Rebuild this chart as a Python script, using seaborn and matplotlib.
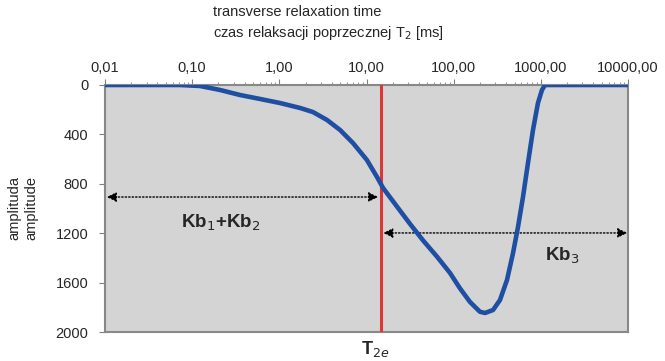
import numpy as np
import pandas as pd
import matplotlib
matplotlib.use("Agg")
import matplotlib.pyplot as plt
import matplotlib.ticker as mticker
import seaborn as sns

# T2 relaxation time [ms] and amplitude
t2_ms = [0.01, 0.072, 0.123, 0.208, 0.354, 0.60, 1.02, 1.73, 2.43, 3.52,
         4.97, 7.0, 10.1, 13.2, 15.5, 22.4, 31.6, 44.5, 64.4, 90.8,
         118, 154, 200, 229, 283, 340, 409, 480, 547, 624,
         712, 813, 927, 1031, 1117, 10000]
amplitude = [0, 0, 8, 40, 81, 113, 146, 186, 219, 283,
             364, 470, 607, 745, 834, 985, 1125, 1258, 1390, 1522,
             1646, 1757, 1836, 1846, 1822, 1741, 1579, 1360, 1150, 907,
             632, 364, 146, 40, 0, 0]

t2e_cutoff = 14.6
x_ticks = [0.01, 0.1, 1, 10, 100, 1000, 10000]
x_tick_labels = ["0,01", "0,10", "1,00", "10,00", "100,00", "1000,00", "10000,00"]
y_ticks = [0, 400, 800, 1200, 1600, 2000]

df = pd.DataFrame({"t2": t2_ms, "amp": amplitude})

sns.set_style("white")
plt.rcParams["font.family"] = ["Liberation Sans", "DejaVu Sans"]

fig = plt.figure(figsize=(6.65, 3.61), dpi=100)
ax = fig.add_axes([105 / 665, 1 - 332 / 361, 523 / 665, 247 / 361])
ax.set_facecolor("#d4d4d4")

sns.lineplot(data=df, x="t2", y="amp", ax=ax, color="#1f4fa3", linewidth=3.3, zorder=4)
ax.axvline(t2e_cutoff, color="#e03535", linewidth=2.2, zorder=3)

ax.set_xscale("log")
ax.set_xlim(0.01, 10000)
ax.set_ylim(2000, 0)
ax.xaxis.tick_top()
ax.set_xticks(x_ticks)
ax.xaxis.set_major_formatter(mticker.FixedFormatter(x_tick_labels))
ax.xaxis.set_minor_locator(mticker.LogLocator(base=10, subs=np.arange(2, 10)))
ax.xaxis.set_minor_formatter(mticker.NullFormatter())
ax.set_yticks(y_ticks)
ax.tick_params(axis="x", which="major", direction="out", length=4, pad=3,
               labelsize=10.5, color="#808080", top=True, bottom=False)
ax.tick_params(axis="x", which="minor", direction="out", length=2,
               color="#808080", top=True, bottom=False)
ax.tick_params(axis="y", direction="out", length=4, pad=8, labelsize=10.5,
               color="#808080", left=True)
ax.set_xlabel("")
ax.set_ylabel("amplituda\namplitude", fontsize=10.5, labelpad=12, linespacing=1.3)

for side in ["left", "right", "bottom", "top"]:
    ax.spines[side].set_color("#888888")
    ax.spines[side].set_linewidth(1.5)

# double arrows for the two pools
arrow_kw = dict(arrowstyle="<|-|>", color="black", linestyle=(0, (1, 1.5)),
                linewidth=1.0, mutation_scale=14, shrinkA=0, shrinkB=0)
ax.annotate("", xy=(0.0105, 907), xytext=(13.6, 907), arrowprops=arrow_kw)
ax.annotate("", xy=(15.6, 1198), xytext=(9800, 1198), arrowprops=arrow_kw)

ax.text(0.21, 1120, "Kb$_1$+Kb$_2$", fontsize=13.5, fontweight="bold",
        ha="center", va="center", zorder=5)
ax.text(1750, 1380, "Kb$_3$", fontsize=13.5, fontweight="bold",
        ha="center", va="center", zorder=5)

fig.text(375 / 665, 1 - 349 / 361, "T$_{2e}$", fontsize=13, fontweight="bold",
         ha="center", va="center")
fig.text(213 / 665, 1 - 33 / 361, "czas relaksacji poprzecznej T$_2$ [ms]",
         fontsize=10.5, ha="left", va="center")
fig.text(213 / 665, 1 - 12 / 361, "transverse relaxation time",
         fontsize=10.5, ha="left", va="center")

fig.savefig("out.png", dpi=100)
